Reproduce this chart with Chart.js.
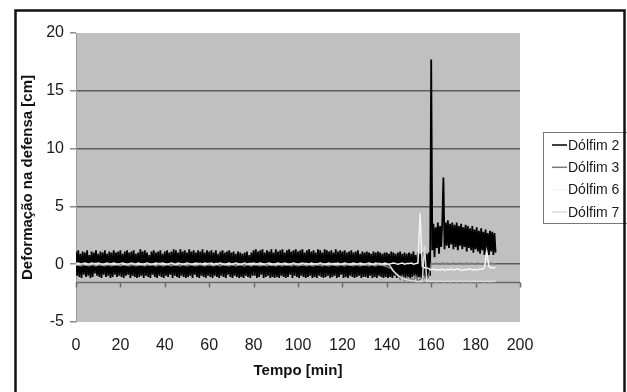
<!DOCTYPE html>
<html>
<head>
<meta charset="utf-8">
<script src="https://cdn.jsdelivr.net/npm/chart.js@4.4.1/dist/chart.umd.min.js"></script>
<style>
  body { margin: 0; background: #fff; }
  #box { width: 627px; height: 392px; position: relative; }
</style>
</head>
<body>
<div id="box"><canvas id="myChart"></canvas></div>
<script>
const series = ['Dólfim 2', 'Dólfim 3', 'Dólfim 6', 'Dólfim 7'];
const cores = ['#000000', '#7a7a7a', '#f4f4f4', '#dadada'];
// sampling step of each series in minutes (all start at t = 0)
const passos = [0.5, 1, 1, 1];

// Dólfim 2: every 0.5 min, 0 .. 189 min
const dolfim2 = [
  1.1, -1.0, 1.2, -1.1, 0.9, -1.2, 1.1, -0.9, 1.0, -1.1, 1.2, -1.0, 0.8, -1.2, 1.1, -1.1, 1.0, -0.8, 1.2, -1.0,
  0.9, -1.1, 1.1, -1.2, 1.0, -0.9, 1.2, -1.1, 0.9, -1.0, 1.1, -1.2, 1.0, -1.1, 1.2, -0.9, 1.0, -1.1, 1.1, -1.0,
  1.2, -1.1, 0.9, -1.2, 1.1, -1.0, 1.2, -0.9, 1.0, -1.2, 1.1, -1.0, 1.2, -1.1, 0.9, -1.2, 1.0, -1.1, 1.3, -1.0,
  1.1, -1.2, 1.2, -1.0, 1.0, -1.1, 0.8, -1.2, 1.1, -0.9, 1.2, -1.1, 1.0, -1.2, 1.1, -1.0, 1.2, -1.1, 0.9, -1.2,
  1.1, -1.0, 1.2, -1.1, 1.0, -0.9, 1.1, -1.2, 1.3, -1.0, 1.2, -1.1, 1.0, -1.2, 1.3, -1.0, 1.1, -1.1, 1.2, -1.2,
  1.0, -1.1, 1.3, -1.0, 1.1, -1.2, 1.2, -0.9, 1.0, -1.1, 1.2, -1.2, 1.1, -1.0, 1.3, -1.1, 1.0, -1.2, 1.2, -1.0,
  1.1, -1.1, 1.2, -1.2, 1.0, -1.0, 1.2, -1.1, 0.9, -1.2, 1.1, -1.0, 1.2, -1.1, 1.0, -1.2, 1.1, -0.9, 1.2, -1.1,
  1.0, -1.2, 1.1, -1.0, 0.9, -1.1, 1.1, -1.2, 1.0, -1.1, 0.9, -1.2, 1.0, -1.0, 1.1, -1.1, 0.8, -1.2, 1.0, -1.0,
  1.2, -1.0, 1.3, -1.2, 1.1, -1.1, 1.2, -0.9, 1.3, -1.2, 1.0, -1.1, 1.2, -1.0, 1.1, -1.2, 1.3, -1.1, 1.0, -1.2,
  1.3, -1.1, 1.1, -1.2, 1.2, -1.0, 1.3, -1.1, 1.0, -1.2, 1.2, -1.1, 1.3, -0.9, 1.1, -1.2, 1.2, -1.0, 1.3, -1.1,
  1.1, -1.2, 1.2, -1.0, 1.3, -1.1, 1.0, -1.2, 1.2, -1.1, 1.3, -1.0, 1.1, -1.2, 1.2, -1.1, 1.0, -1.2, 1.3, -1.0,
  1.2, -1.1, 1.0, -1.2, 1.3, -1.1, 1.2, -1.0, 1.1, -1.2, 1.2, -1.1, 1.0, -1.0, 1.3, -1.2, 1.1, -1.1, 1.2, -0.9,
  1.1, -1.2, 1.2, -1.1, 1.0, -1.2, 1.1, -1.0, 1.2, -1.1, 1.0, -1.2, 1.1, -1.1, 1.2, -1.0, 0.9, -1.2, 1.1, -1.1,
  1.0, -1.1, 1.1, -1.2, 1.0, -1.0, 0.9, -1.2, 1.1, -1.1, 1.0, -1.2, 1.1, -1.0, 1.0, -1.1, 0.9, -1.2, 1.0, -1.1,
  1.0, -1.2, 0.9, -1.1, 1.1, -1.2, 1.0, -1.0, 0.9, -1.2, 1.0, -1.1, 1.1, -1.2, 0.9, -1.1, 1.0, -1.2, 0.9, -1.1,
  1.0, -1.2, 0.9, -1.1, 1.1, -1.0, 0.8, -1.2, 1.0, -1.1, 0.9, -1.2, 1.0, -1.0, 1.1, -1.1, 0.9, -1.2, 1.0, -1.0,
  17.7,
  1.2, 3.5, 0.6, 3.2, 1.4, 3.6, 0.9, 3.3, 1.5, 3.7,
  7.5, 1.3, 3.6, 1.6, 3.8, 1.4, 3.5, 1.7, 3.6, 1.3,
  3.4, 1.5, 3.6, 1.2, 3.3, 1.6, 3.5, 1.3, 3.2, 1.5,
  3.4, 1.1, 3.3, 1.4, 3.1, 1.2, 3.3, 1.0, 3.0, 1.3,
  3.2, 1.1, 2.9, 0.9, 3.1, 1.2, 2.8, 0.8, 3.0, 1.0,
  2.7, 0.8, 2.9, 1.1, 2.8, 0.8, 2.7, 1.0
];

// Dólfim 3, 6, 7: every 1 min, 0 .. 189 min
const dolfim3 = [
  -0.1, -0.05, -0.15, -0.1, -0.05, -0.1, -0.15, -0.05, -0.1, -0.15,
  -0.05, -0.1, -0.1, -0.15, -0.05, -0.1, -0.15, -0.05, -0.1, -0.1,
  -0.15, -0.05, -0.1, -0.1, -0.15, -0.05, -0.1, -0.15, -0.05, -0.1,
  -0.1, -0.15, -0.05, -0.1, -0.1, -0.05, -0.15, -0.1, -0.05, -0.15,
  -0.1, -0.05, -0.1, -0.15, -0.05, -0.1, -0.1, -0.15, -0.05, -0.1,
  -0.15, -0.1, -0.05, -0.1, -0.15, -0.1, -0.05, -0.1, -0.15, -0.05,
  -0.1, -0.1, -0.15, -0.05, -0.1, -0.15, -0.05, -0.1, -0.1, -0.15,
  -0.05, -0.1, -0.15, -0.05, -0.1, -0.1, -0.15, -0.05, -0.1, -0.15,
  -0.05, -0.1, -0.1, -0.15, -0.05, -0.1, -0.15, -0.05, -0.1, -0.1,
  -0.15, -0.05, -0.1, -0.15, -0.05, -0.1, -0.1, -0.15, -0.05, -0.1,
  -0.15, -0.05, -0.1, -0.1, -0.15, -0.05, -0.1, -0.15, -0.05, -0.1,
  -0.1, -0.15, -0.05, -0.1, -0.15, -0.05, -0.1, -0.1, -0.15, -0.05,
  -0.1, -0.15, -0.05, -0.1, -0.1, -0.15, -0.05, -0.1, -0.15, -0.05,
  -0.1, -0.1, -0.15, -0.05, -0.1, -0.15, -0.05, -0.1, -0.1, -0.15,
  -0.2, -0.3, -0.4, -0.6, -0.8, -0.9, -1.3, -1.0, -1.4, -1.1,
  -1.5, -1.2, -1.4, -1.0, -1.5, -1.2, -1.4, -1.1, -1.3, -0.9,
  0.1, 0.0, 0.1, 0.05, 0.0, 0.1, 0.05, 0.1, 0.0, 0.05,
  0.1, 0.0, 0.05, 0.1, 0.0, 0.05, 0.1, 0.0, 0.1, 0.05,
  0.0, 0.1, 0.05, 0.0, 0.1, 0.05, 0.0, 0.1, 0.05, 0.0
];

const dolfim6 = [
  0.05, 0.1, 0.0, 0.05, 0.1, 0.05, 0.0, 0.1, 0.05, 0.05,
  0.1, 0.05, 0.0, 0.05, 0.1, 0.0, 0.05, 0.1, 0.05, 0.0,
  0.05, 0.1, 0.05, 0.0, 0.05, 0.1, 0.05, 0.0, 0.1, 0.05,
  0.0, 0.05, 0.1, 0.05, 0.0, 0.05, 0.1, 0.05, 0.05, 0.1,
  0.05, 0.0, 0.05, 0.1, 0.05, 0.0, 0.1, 0.05, 0.0, 0.05,
  0.1, 0.05, 0.0, 0.05, 0.1, 0.05, 0.05, 0.0, 0.1, 0.05,
  0.05, 0.1, 0.0, 0.05, 0.05, 0.1, 0.05, 0.0, 0.05, 0.1,
  0.0, 0.05, 0.1, 0.05, 0.0, 0.05, 0.1, 0.0, 0.05, 0.05,
  0.1, 0.0, 0.05, 0.1, 0.05, 0.0, 0.05, 0.1, 0.05, 0.0,
  0.05, 0.1, 0.05, 0.0, 0.1, 0.05, 0.0, 0.05, 0.1, 0.05,
  0.0, 0.05, 0.1, 0.05, 0.05, 0.0, 0.1, 0.05, 0.0, 0.05,
  0.1, 0.05, 0.0, 0.05, 0.1, 0.0, 0.05, 0.05, 0.1, 0.0,
  0.05, 0.1, 0.05, 0.0, 0.05, 0.1, 0.05, 0.0, 0.1, 0.05,
  0.0, 0.05, 0.1, 0.05, 0.0, 0.1, 0.05, 0.05, 0.0, 0.1,
  0.05, 0.0, 0.05, 0.1, 0.05, 0.0, 0.05, 0.1, 0.0, 0.05,
  0.05, 0.1, 0.0, 0.05, 0.1, 4.4, -0.2, -0.3, -0.3, -0.4,
  -0.5, -0.4, -0.5, -0.45, -0.5, -0.4, -0.55, -0.45, -0.5, -0.4,
  -0.5, -0.45, -0.4, -0.5, -0.55, -0.45, -0.5, -0.4, -0.45, -0.5,
  -0.45, -0.5, -0.4, -0.45, -0.3, 1.1, -0.2, -0.3, -0.3, -0.3
];

const dolfim7 = [
  0.0, -0.05, 0.0, 0.05, 0.0, -0.05, 0.0, 0.0, 0.05, -0.05,
  0.0, 0.05, -0.05, 0.0, 0.0, 0.05, 0.0, -0.05, 0.0, 0.0,
  0.05, 0.0, 0.0, -0.05, 0.0, 0.05, 0.0, 0.0, -0.05, 0.0,
  0.0, -0.05, 0.05, 0.0, 0.0, 0.0, -0.05, 0.05, 0.0, 0.0,
  -0.05, 0.0, 0.0, 0.05, 0.0, -0.05, 0.0, 0.05, 0.0, 0.0,
  0.0, 0.05, 0.0, -0.05, 0.0, 0.0, 0.05, 0.0, -0.05, 0.0,
  0.05, 0.0, -0.05, 0.0, 0.0, 0.05, 0.0, 0.0, -0.05, 0.0,
  0.0, 0.0, 0.05, -0.05, 0.0, 0.0, 0.05, 0.0, 0.0, -0.05,
  0.0, 0.05, 0.0, 0.0, -0.05, 0.0, 0.05, 0.0, -0.05, 0.0,
  -0.05, 0.0, 0.0, 0.05, 0.0, -0.05, 0.0, 0.0, 0.05, 0.0,
  0.0, -0.05, 0.05, 0.0, 0.0, 0.0, -0.05, 0.0, 0.05, 0.0,
  0.05, 0.0, 0.0, -0.05, 0.0, 0.05, 0.0, -0.05, 0.0, 0.0,
  0.0, 0.0, 0.05, 0.0, -0.05, 0.0, 0.0, 0.05, 0.0, -0.05,
  0.0, 0.05, 0.0, 0.0, -0.05, 0.0, 0.05, 0.0, 0.0, -0.05,
  0.0, -0.05, -0.3, -0.6, -0.8, -1.0, -1.1, -1.2, -1.3, -1.3,
  -1.4, -1.4, -1.4, -1.5, -1.5, -1.5, -1.5, 1.6, -1.5, -1.45,
  -1.5, -1.45, -1.5, -1.5, -1.45, -1.5, -1.5, -1.45, -1.5, -1.5,
  -1.45, -1.5, -1.5, -1.45, -1.5, -1.5, -1.45, -1.5, -1.5, -1.45,
  -1.5, -1.5, -1.45, -1.5, -1.5, -1.45, -1.5, -1.5, -1.45, -1.5
];

const valores = [dolfim2, dolfim3, dolfim6, dolfim7];

// axis ticks
const yMin = -5, yMax = 20, yPasso = 5;
const xMin = 0, xMax = 200, xPasso = 20;
const eixoXCruza = -1.5; // horizontal axis crosses here

const fonte = "'Liberation Sans', Arial, sans-serif";

// gray plot area + white page
const fundo = {
  id: 'fundo',
  beforeDraw(chart) {
    const { ctx, chartArea: a } = chart;
    ctx.save();
    ctx.fillStyle = '#fff';
    ctx.fillRect(0, 0, chart.width, chart.height);
    ctx.fillStyle = '#c0c0c0';
    ctx.fillRect(a.left, a.top, a.right - a.left, a.bottom - a.top);
    ctx.restore();
  }
};

// excel style category axis line crossing at -1.5
const eixoCruzado = {
  id: 'eixoCruzado',
  beforeDatasetsDraw(chart) {
    const { ctx, chartArea: a, scales } = chart;
    const y = Math.round(scales.y.getPixelForValue(eixoXCruza)) + 0.5;
    ctx.save();
    ctx.strokeStyle = '#6a6a6a';
    ctx.lineWidth = 1.5;
    ctx.beginPath();
    ctx.moveTo(a.left, y);
    ctx.lineTo(a.right, y);
    scales.x.ticks.forEach(t => {
      const x = Math.round(scales.x.getPixelForValue(t.value)) + 0.5;
      ctx.moveTo(x, y);
      ctx.lineTo(x, y + 5);
    });
    ctx.stroke();
    ctx.restore();
  }
};

// boxed legend and outer frame
const legendaBox = {
  id: 'legendaBox',
  afterDraw(chart) {
    const { ctx } = chart;
    const bx = 543, by = 132, bw = 90, bh = 91;
    ctx.save();
    ctx.strokeStyle = '#777';
    ctx.lineWidth = 1;
    ctx.strokeRect(bx + 0.5, by + 0.5, bw, bh);
    ctx.font = '14px ' + fonte;
    ctx.textBaseline = 'middle';
    chart.data.datasets.forEach((ds, i) => {
      const y = by + 13 + i * 22.3;
      ctx.strokeStyle = ds.borderColor;
      ctx.lineWidth = 1.5;
      ctx.beginPath();
      ctx.moveTo(bx + 9, y);
      ctx.lineTo(bx + 24, y);
      ctx.stroke();
      ctx.fillStyle = '#1a1a1a';
      ctx.fillText(ds.label, bx + 25, y + 1);
    });
    ctx.strokeStyle = '#111';
    ctx.lineWidth = 2.5;
    ctx.strokeRect(15.5, 10.5, 609, 400);
    ctx.restore();
  }
};

const datasets = series.map((nome, s) => ({
  label: nome,
  data: valores[s].map((v, i) => ({ x: i * passos[s], y: v })),
  borderColor: cores[s],
  borderWidth: s === 0 ? 1.8 : 1.5,
  pointRadius: 0,
  tension: 0,
  fill: false,
  order: series.length - s // first series at the bottom, like Excel
}));

var ctx = document.getElementById('myChart').getContext('2d');

var myChart = new Chart(ctx, {
  type: 'line',
  data: { datasets: datasets },
  options: {
    responsive: true,
    maintainAspectRatio: false,
    animation: false,
    devicePixelRatio: 1,
    layout: { padding: { left: 15, right: 107, top: 33, bottom: 8 } },
    plugins: {
      legend: { display: false },
      tooltip: { enabled: false }
    },
    scales: {
      x: {
        type: 'linear',
        min: xMin,
        max: xMax,
        afterFit: s => { s.height = 62; },
        grid: { display: false, drawTicks: false },
        border: { display: false },
        ticks: { stepSize: xPasso, padding: 14, color: '#1a1a1a', font: { family: fonte, size: 16 } },
        title: {
          display: true,
          text: 'Tempo [min]',
          color: '#111',
          font: { family: fonte, size: 15, weight: 'bold' },
          padding: { top: 0, bottom: 4 }
        }
      },
      y: {
        min: yMin,
        max: yMax,
        afterFit: s => { s.width = 61; },
        grid: {
          color: c => (c.tick && (c.tick.value === yMax || c.tick.value === yMin)) ? 'rgba(0,0,0,0)' : '#5c5c5c',
          lineWidth: 1.5,
          tickLength: 6,
          tickColor: '#8a8a8a'
        },
        border: { color: '#9a9a9a', width: 1 },
        ticks: { stepSize: yPasso, padding: 6, color: '#1a1a1a', font: { family: fonte, size: 16 } },
        title: {
          display: true,
          text: 'Deformação na defensa [cm]',
          color: '#111',
          font: { family: fonte, size: 15, weight: 'bold' },
          padding: { top: 4, bottom: 10 }
        }
      }
    }
  },
  plugins: [fundo, eixoCruzado, legendaBox]
});
</script>
</body>
</html>
